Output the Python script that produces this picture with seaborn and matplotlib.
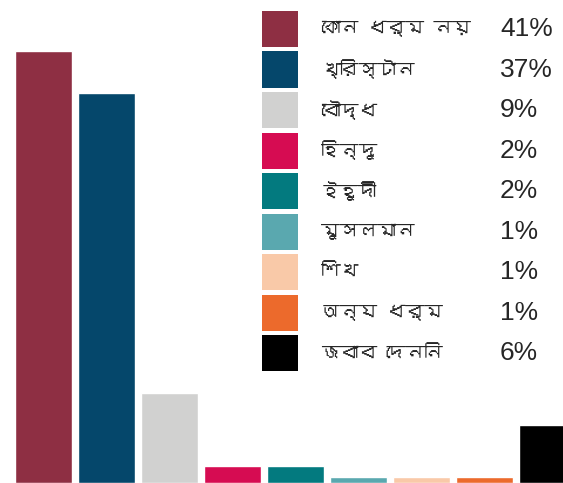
import matplotlib
matplotlib.use('Agg')
import matplotlib.pyplot as plt
import seaborn as sns
import pandas as pd
from matplotlib import font_manager
from matplotlib.ft2font import FT2Font
from matplotlib.patches import Rectangle

# Religious affiliation, share of respondents
religions = ['কোন ধর্ম নয়', 'খ্রিস্টান', 'বৌদ্ধ', 'হিন্দু', 'ইহুদী',
             'মুসলমান', 'শিখ', 'অন্য ধর্ম', 'জবাব দেননি']
shares = [41.0, 37.0, 8.5, 1.6, 1.6, 0.6, 0.6, 0.6, 5.5]
share_labels = ['41%', '37%', '9%', '2%', '2%', '1%', '1%', '1%', '6%']
colors = ['#8e2f43', '#05476b', '#d1d1d0', '#d60c52', '#037a7f',
          '#5aa8af', '#f9c9a8', '#ec6a2c', '#000000']

# look for any installed font that has Bengali glyphs
bn_family = None
for f in font_manager.fontManager.ttflist:
    try:
        if 0x0995 in FT2Font(f.fname).get_charmap():
            bn_family = f.name
            break
    except Exception:
        pass

sns.set_style('white')
families = ['Liberation Sans', 'DejaVu Sans']
if bn_family:
    families = [bn_family] + families
plt.rcParams['font.family'] = families

W, H = 563, 483
fig = plt.figure(figsize=(W / 100, H / 100), dpi=100)
ax = fig.add_axes([0, 0, 1, 1])

df = pd.DataFrame({'religion': religions, 'share': shares})
sns.barplot(data=df, x='religion', y='share', hue='religion', palette=colors,
            width=0.9, saturation=1, legend=False, ax=ax)
ax.set_xlim(-0.69, 8.246)
ax.set_ylim(0, 45.84)
ax.axis('off')

# legend with percentages
for i, (name, lab, c) in enumerate(zip(religions, share_labels, colors)):
    yc = 29 + i * 40.5
    fig.add_artist(Rectangle((262 / W, 1 - (yc + 18) / H), 36 / W, 36 / H,
                             transform=fig.transFigure, color=c, lw=0))
    fig.text(321 / W, 1 - yc / H, name, fontsize=13.5, va='center', ha='left',
             family=families)
    fig.text(500 / W, 1 - yc / H, lab, fontsize=19, va='center', ha='left',
             family=['Liberation Sans', 'DejaVu Sans'])

fig.savefig('out.png', dpi=100)
